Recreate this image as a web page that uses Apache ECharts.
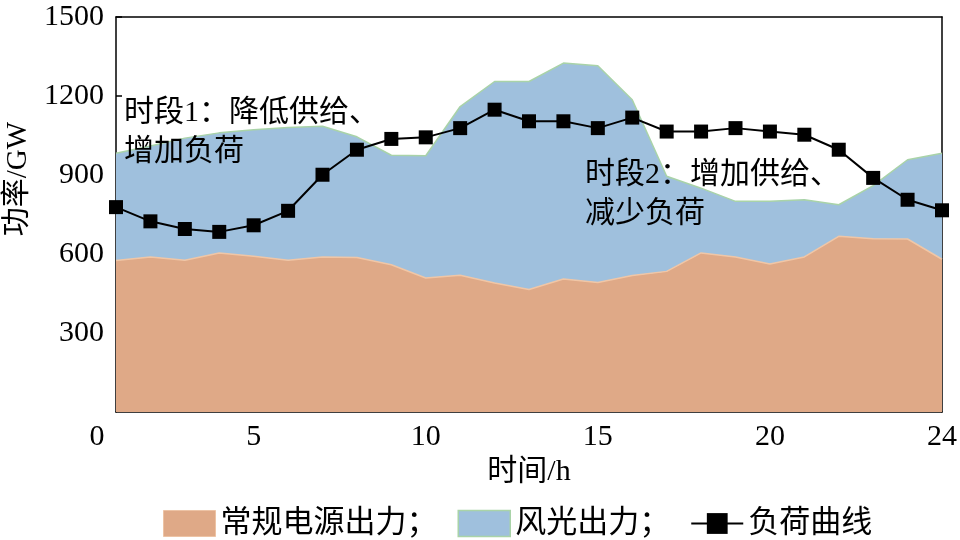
<!DOCTYPE html>
<html>
<head>
<meta charset="utf-8">
<script src="https://cdn.jsdelivr.net/npm/echarts@6/dist/echarts.min.js"></script>
<style>html,body{margin:0;padding:0;background:#fff}#c{width:960px;height:540px}</style>
</head>
<body>
<div id="c"></div>
<script>
const hours = ['0','1','2','3','4','5','6','7','8','9','10','11','12','13','14','15','16','17','18','19','20','21','22','23','24'];
const conventional = [575,589,576,604,591,576,589,587,559,509,519,490,465,505,492,518,534,604,589,562,589,667,658,657,580];
const windSolar = [408,421,464,456,481,504,496,458,416,464,641,765,790,820,823,668,361,246,211,238,217,120,202,301,403];
const load = [778,724,695,684,709,764,901,996,1037,1043,1078,1148,1104,1104,1078,1118,1065,1065,1078,1065,1053,996,889,806,766];
const xTickPositions = [0,4,9,14,19,24];
const xTickLabels = ['0','5','10','15','20','24'];
const seriesNames = ['常规电源出力；','风光出力；','负荷曲线'];
const xName = '时间/h';
const yName = '功率/GW';
const note1 = '时段1：降低供给、\n增加负荷';
const note2 = '时段2：增加供给、\n减少负荷';

const FONT = "'Liberation Serif','Noto Sans CJK SC',serif";
const chart = echarts.init(document.getElementById('c'), null, {renderer: 'canvas'});

chart.setOption({
  animation: false,
  backgroundColor: '#fff',
  textStyle: {fontFamily: FONT, color: '#000'},
  grid: {left: 116, right: 18, top: 17, bottom: 128},
  xAxis: [{
    type: 'category', data: hours, boundaryGap: false,
    name: xName, nameLocation: 'middle', nameGap: 42,
    nameTextStyle: {fontFamily: FONT, fontSize: 30, color: '#000'},
    axisLine: {show: true, onZero: false, lineStyle: {color: '#000', width: 1.5}},
    axisTick: {show: true, inside: true, length: 6, interval: i => xTickPositions.includes(i) && i !== 0 && i !== 24, lineStyle: {color: '#000', width: 1.5}},
    splitLine: {show: false},
    axisLabel: {
      interval: i => xTickPositions.includes(i), margin: 10, fontFamily: FONT, fontSize: 30, color: '#000',
      formatter: (v, idx) => {
        const i = xTickPositions.indexOf(idx);
        const t = i >= 0 ? xTickLabels[i] : '';
        return i === 0 ? '{z|' + t + '}' : t;
      },
      rich: {z: {fontFamily: FONT, fontSize: 30, color: '#000', padding: [0, 38, 0, 0]}}
    }
  }, {
    type: 'value', min: 0, max: 24, position: 'top',
    axisLine: {show: true, onZero: false, lineStyle: {color: '#000', width: 1.5}},
    axisTick: {show: false}, axisLabel: {show: false}, splitLine: {show: false}
  }],
  yAxis: [{
    type: 'value', min: 0, max: 1500, interval: 300,
    axisLine: {show: true, onZero: false, lineStyle: {color: '#000', width: 1.5}},
    axisTick: {show: true, inside: true, length: 6, lineStyle: {color: '#000', width: 1.5}},
    splitLine: {show: false},
    axisLabel: {showMinLabel: false, margin: 12, fontFamily: FONT, fontSize: 30, color: '#000', formatter: v => String(v)}
  }, {
    type: 'value', min: 0, max: 1500, position: 'right',
    axisLine: {show: true, onZero: false, lineStyle: {color: '#000', width: 1.5}},
    axisTick: {show: false}, axisLabel: {show: false}, splitLine: {show: false}
  }],
  legend: {
    left: 158, top: 503, itemWidth: 52, itemHeight: 26, itemGap: 20,
    textStyle: {fontFamily: FONT, fontSize: 31, color: '#000'},
    data: [
      {name: seriesNames[0], icon: 'rect', itemStyle: {color: '#DFA987', borderColor: '#EDC3A4', borderWidth: 1}},
      {name: seriesNames[1], icon: 'rect', itemStyle: {color: '#9FC0DD', borderColor: '#A9D3A8', borderWidth: 1.5}},
      {name: seriesNames[2]}
    ]
  },
  series: [{
    name: seriesNames[0], type: 'line', stack: 'p', data: conventional,
    symbol: 'none', z: 1,
    lineStyle: {color: '#F0C6A6', width: 1.5},
    itemStyle: {color: '#DFA987'},
    areaStyle: {color: '#DFA987', opacity: 1}
  }, {
    name: seriesNames[1], type: 'line', stack: 'p', data: windSolar,
    symbol: 'none', z: 1,
    lineStyle: {color: '#A9D3A8', width: 1.5},
    itemStyle: {color: '#9FC0DD'},
    areaStyle: {color: '#9FC0DD', opacity: 1}
  }, {
    name: seriesNames[2], type: 'line', data: load,
    symbol: 'rect', symbolSize: 14, z: 3,
    lineStyle: {color: '#000', width: 2},
    itemStyle: {color: '#000'}
  }],
  graphic: [
    {type: 'text', left: 124, top: 94, z: 10, style: {text: note1, font: '30px ' + FONT, lineHeight: 39, fill: '#000'}},
    {type: 'text', left: 585, top: 156, z: 10, style: {text: note2, font: '30px ' + FONT, lineHeight: 39, fill: '#000'}},
    {type: 'text', x: 18, y: 179, rotation: Math.PI / 2, z: 10, style: {text: yName, font: '29px ' + FONT, fill: '#000', align: 'center', verticalAlign: 'middle'}}
  ]
});
</script>
</body>
</html>
